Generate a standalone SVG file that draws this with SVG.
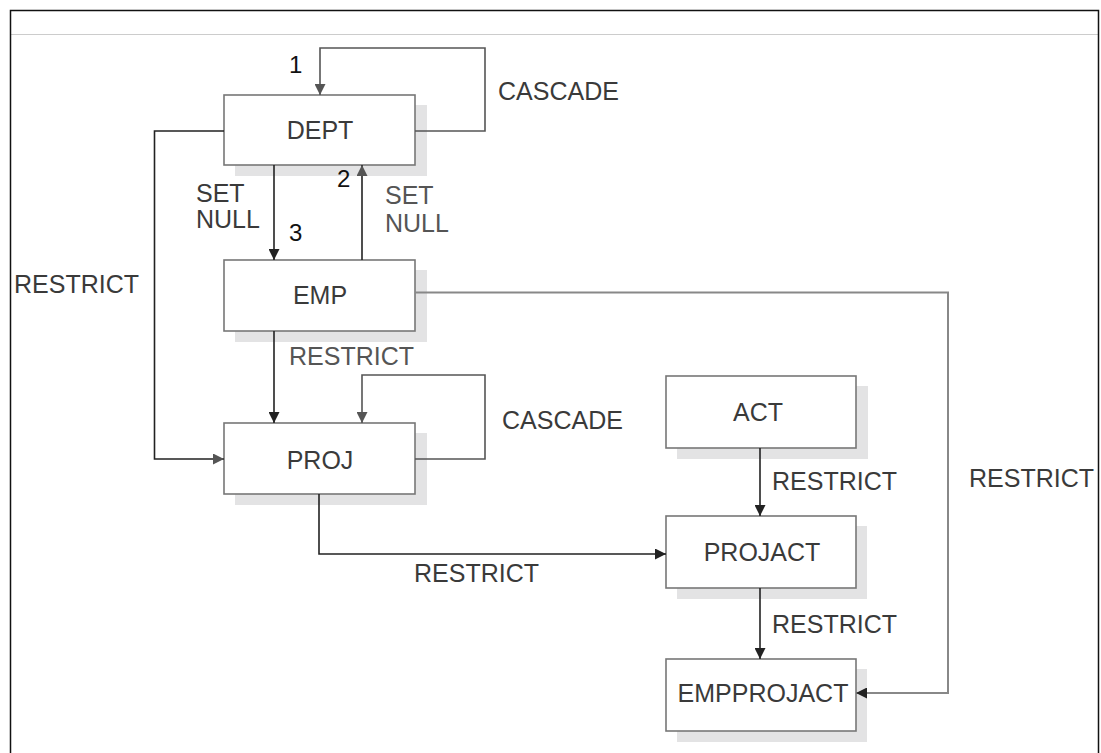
<svg xmlns="http://www.w3.org/2000/svg" width="1101" height="753" viewBox="0 0 1101 753">
  <style>
    .box { fill: #ffffff; stroke: #777777; stroke-width: 1.6; }
    .shadow { fill: #e3e3e4; }
    .lbl { font-family: "Liberation Sans", Arial, sans-serif; font-size: 25px; fill: #3a3a3a; }
    .name { font-family: "Liberation Sans", Arial, sans-serif; font-size: 25px; fill: #3a3a3a; text-anchor: middle; }
    .num { font-family: "Liberation Sans", Arial, sans-serif; font-size: 24px; fill: #111111; }
    .lite { fill: #555555; }
    .conn { fill: none; stroke: #222222; stroke-width: 1.6; }
    .conn.grey { stroke: #555555; }
    .conn.light { stroke: #888888; stroke-width: 2; }
  </style>
  <defs>
    <marker id="ah" viewBox="0 0 10 10" refX="10" refY="5" markerWidth="11" markerHeight="11" orient="auto" markerUnits="userSpaceOnUse">
      <path d="M0,0 L10,5 L0,10 z" fill="#222222"/>
    </marker>
    <marker id="ahg" viewBox="0 0 10 10" refX="10" refY="5" markerWidth="11" markerHeight="11" orient="auto" markerUnits="userSpaceOnUse">
      <path d="M0,0 L10,5 L0,10 z" fill="#555555"/>
    </marker>
  </defs>

  <rect x="0" y="0" width="1101" height="753" fill="#ffffff"/>
  <!-- frame -->
  <g id="frame">
    <line x1="10" y1="34.5" x2="1098" y2="34.5" stroke="#cccccc" stroke-width="1"/>
    <polyline points="10.5,753 10.5,10.5 1098.5,10.5 1098.5,753" fill="none" stroke="#111111" stroke-width="1.5"/>
  </g>

  <!-- nodes -->
  <g id="DEPT">
    <rect class="shadow" x="235" y="105" width="192" height="71"/>
    <rect class="box" x="224" y="95" width="191" height="70"/>
    <text class="name" x="320" y="139">DEPT</text>
  </g>
  <g id="EMP">
    <rect class="shadow" x="235" y="270" width="192" height="72"/>
    <rect class="box" x="224" y="260" width="191" height="71"/>
    <text class="name" x="320" y="304">EMP</text>
  </g>
  <g id="PROJ">
    <rect class="shadow" x="235" y="433" width="192" height="72"/>
    <rect class="box" x="224" y="423" width="191" height="71"/>
    <text class="name" x="320" y="469">PROJ</text>
  </g>
  <g id="ACT">
    <rect class="shadow" x="677" y="386" width="191" height="73"/>
    <rect class="box" x="666" y="376" width="190" height="72"/>
    <text class="name" x="758" y="421">ACT</text>
  </g>
  <g id="PROJACT">
    <rect class="shadow" x="677" y="526" width="190" height="73"/>
    <rect class="box" x="666" y="516" width="190" height="72"/>
    <text class="name" x="762" y="561">PROJACT</text>
  </g>
  <g id="EMPPROJACT">
    <rect class="shadow" x="677" y="669" width="190" height="73"/>
    <rect class="box" x="666" y="659" width="190" height="72"/>
    <text class="name" x="763" y="702">EMPPROJACT</text>
  </g>

  <!-- connectors -->
  <g id="connectors">
    <!-- DEPT cascade self loop -->
    <path class="conn grey" d="M415,131 H485 V48 H320 V95" marker-end="url(#ahg)"/>
    <!-- DEPT -> EMP set null -->
    <path class="conn" d="M274,165 V260" marker-end="url(#ah)"/>
    <!-- EMP -> DEPT set null -->
    <path class="conn" d="M362,260 V165" marker-end="url(#ahg)"/>
    <!-- DEPT -> PROJ restrict -->
    <path class="conn" d="M224,131 H154.5 V459 H224" marker-end="url(#ahg)"/>
    <!-- EMP -> PROJ restrict -->
    <path class="conn" d="M274,331 V423" marker-end="url(#ah)"/>
    <!-- PROJ cascade self loop -->
    <path class="conn grey" d="M415,459 H485 V375 H362 V423" marker-end="url(#ahg)"/>
    <!-- PROJ -> PROJACT restrict -->
    <path class="conn" d="M319,494 V554 H666" marker-end="url(#ah)"/>
    <!-- ACT -> PROJACT -->
    <path class="conn" d="M760,448 V516" marker-end="url(#ah)"/>
    <!-- PROJACT -> EMPPROJACT -->
    <path class="conn" d="M760,588 V659" marker-end="url(#ah)"/>
    <!-- EMP -> EMPPROJACT -->
    <path class="conn light" d="M415,292.5 H948 V693 H856" marker-end="url(#ah)"/>
  </g>

  <!-- connector labels -->
  <g id="labels">
    <text class="num" x="289" y="73">1</text>
    <text class="lbl" x="498" y="100">CASCADE</text>
    <text class="lbl" x="196" y="202">SET</text>
    <text class="lbl" x="196" y="228">NULL</text>
    <text class="num" x="289" y="241">3</text>
    <text class="num" x="337" y="187">2</text>
    <text class="lbl lite" x="385" y="204">SET</text>
    <text class="lbl lite" x="385" y="232">NULL</text>
    <text class="lbl" x="14" y="293">RESTRICT</text>
    <text class="lbl lite" x="289" y="365">RESTRICT</text>
    <text class="lbl" x="502" y="429">CASCADE</text>
    <text class="lbl" x="414" y="582">RESTRICT</text>
    <text class="lbl" x="772" y="490">RESTRICT</text>
    <text class="lbl" x="969" y="487">RESTRICT</text>
    <text class="lbl" x="772" y="633">RESTRICT</text>
  </g>
</svg>
